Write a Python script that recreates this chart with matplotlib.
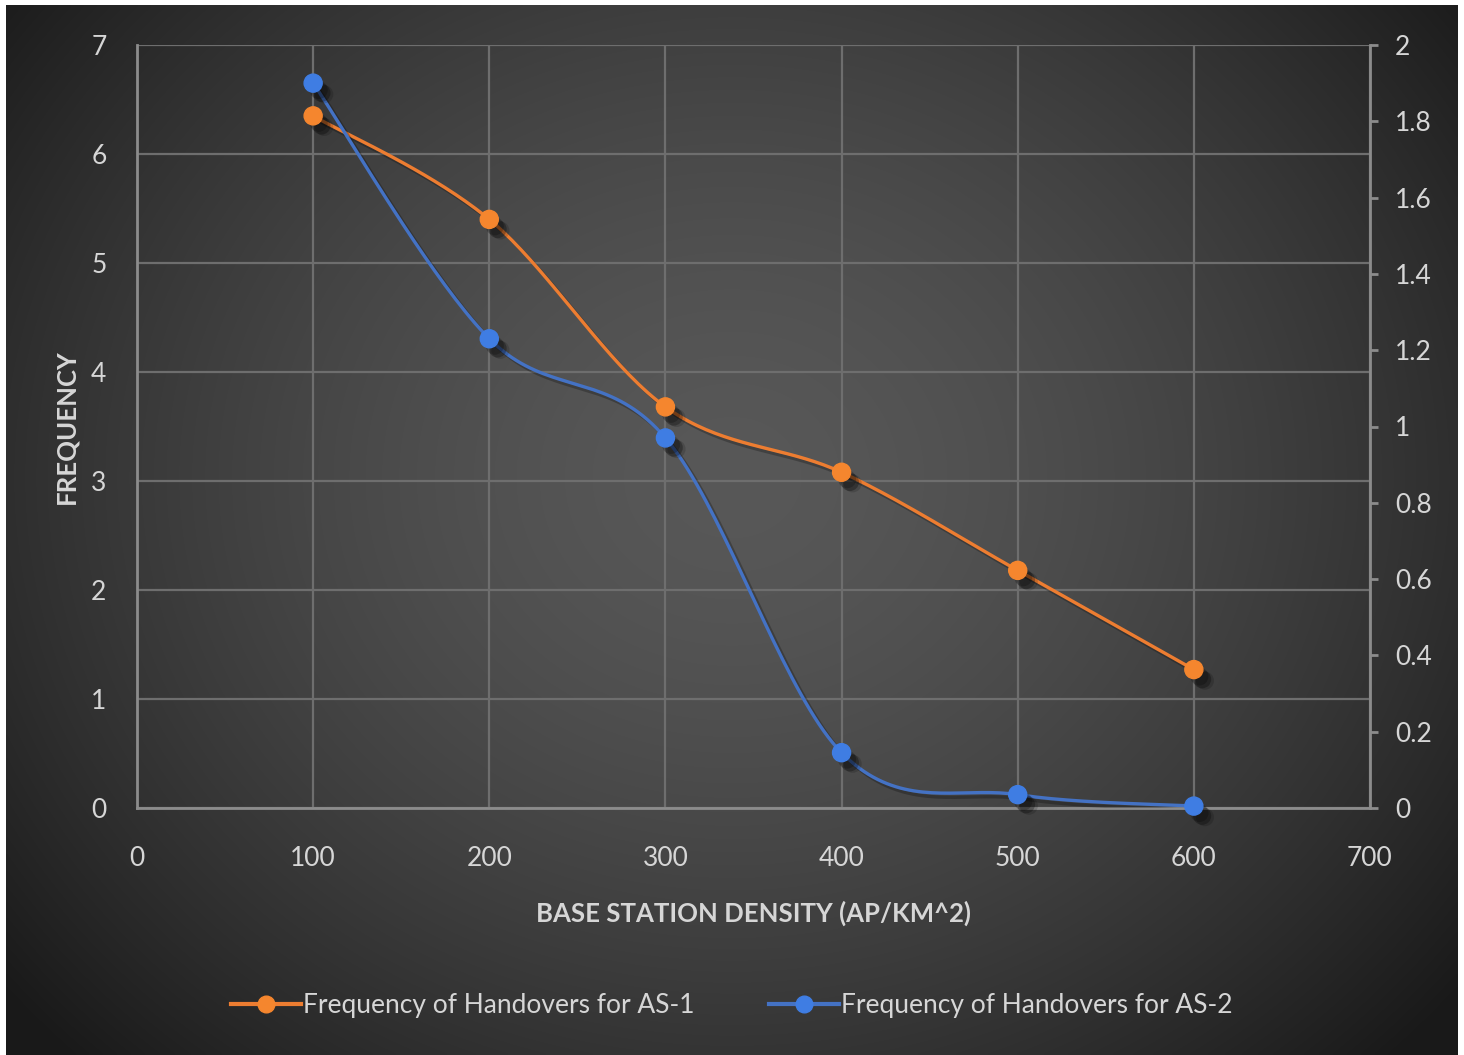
import numpy as np
import matplotlib
matplotlib.use("Agg")
import matplotlib.pyplot as plt
import matplotlib.patheffects as pe
from matplotlib.lines import Line2D

# Data
density = [100, 200, 300, 400, 500, 600]
handovers_as1 = [6.35, 5.40, 3.68, 3.08, 2.18, 1.27]      # left axis
handovers_as2 = [1.90, 1.23, 0.97, 0.145, 0.035, 0.005]   # right axis
left_ticks = [0, 1, 2, 3, 4, 5, 6, 7]
right_ticks = [0, 0.2, 0.4, 0.6, 0.8, 1, 1.2, 1.4, 1.6, 1.8, 2]
x_ticks = [0, 100, 200, 300, 400, 500, 600, 700]

ORANGE = "#ED7D31"
ORANGE_MK = "#F5862E"
BLUE = "#4472C4"
BLUE_MK = "#3F7DE3"
TXT = "#D6D6D6"
GRID = "#6E6E6E"
SPINE = "#8C8C8C"

plt.rcParams["font.family"] = ["Lato", "DejaVu Sans"]


def smooth(xs, ys, xspan, yspan, w=1233.0, h=763.0, n=40):
    # Catmull-Rom style bezier smoothing done in screen-like units
    px = np.asarray(xs, float) / xspan * w
    py = np.asarray(ys, float) / yspan * h
    pts = np.column_stack([px, py])
    pts_ext = np.vstack([pts[0], pts, pts[-1]])
    out = []
    t = np.linspace(0, 1, n)[:, None]
    for i in range(1, len(pts_ext) - 2):
        p0, p1, p2, p3 = pts_ext[i - 1], pts_ext[i], pts_ext[i + 1], pts_ext[i + 2]
        c1 = p1 + (p2 - p0) / 6.0
        c2 = p2 - (p3 - p1) / 6.0
        seg = ((1 - t) ** 3) * p1 + 3 * ((1 - t) ** 2) * t * c1 \
            + 3 * (1 - t) * t ** 2 * c2 + t ** 3 * p2
        out.append(seg if i == 1 else seg[1:])
    curve = np.vstack(out)
    return curve[:, 0] / w * xspan, curve[:, 1] / h * yspan


fig = plt.figure(figsize=(14.64, 10.55), dpi=100, facecolor="white")

# dark radial gradient backdrop
bg = fig.add_axes([6 / 1464, 0, 1452 / 1464, 1 - 5 / 1055], zorder=-10)
gx, gy = np.meshgrid(np.linspace(0, 1, 400), np.linspace(0, 1, 300))
d = np.sqrt(((gx - 0.5) / 0.62) ** 2 + ((gy - 0.45) / 0.75) ** 2)
shade = np.clip(0.345 - 0.23 * d ** 1.6, 0.1, 1)
bg.imshow(np.dstack([shade, shade, shade]), aspect="auto", origin="upper",
          extent=[0, 1, 0, 1], interpolation="bilinear")
bg.axis("off")

ax = fig.add_axes([137 / 1464, 1 - 808 / 1055, 1233 / 1464, 763 / 1055])
ax.set_facecolor("none")
ax2 = ax.twinx()
ax2.set_facecolor("none")

ax.set_xlim(0, 700)
ax.set_ylim(0, 7)
ax2.set_ylim(0, 2)
ax.set_xticks(x_ticks)
ax.set_yticks(left_ticks)
ax2.set_yticks(right_ticks)
ax2.set_yticklabels([f"{v:g}" for v in right_ticks])

ax.grid(True, color=GRID, linewidth=1.6)
ax.set_axisbelow(True)
for a in (ax, ax2):
    for s in a.spines.values():
        s.set_visible(False)
ax.spines["left"].set_visible(True)
ax.spines["bottom"].set_visible(True)
ax2.spines["right"].set_visible(True)
for s in (ax.spines["left"], ax.spines["bottom"], ax2.spines["right"]):
    s.set_color(SPINE)
    s.set_linewidth(2)

ax.tick_params(axis="y", length=0, pad=22, labelsize=19, labelcolor=TXT)
ax.tick_params(axis="x", length=0, pad=27, labelsize=19, labelcolor=TXT)
ax2.tick_params(axis="y", length=6, width=2, color=SPINE, pad=12,
                labelsize=19, labelcolor=TXT)

shadow_mk = [pe.SimplePatchShadow(offset=(4, -5), shadow_rgbFace="black", alpha=0.22),
             pe.SimplePatchShadow(offset=(6, -7), shadow_rgbFace="black", alpha=0.28),
             pe.SimplePatchShadow(offset=(8, -8), shadow_rgbFace="black", alpha=0.15),
             pe.Normal()]
shadow_ln = [pe.SimpleLineShadow(offset=(3, -3), shadow_color="black", alpha=0.25),
             pe.Normal()]

sx, sy = smooth(density, handovers_as1, 700, 7)
ax.plot(sx, sy, color=ORANGE, linewidth=2.4, path_effects=shadow_ln, zorder=3)
ax.plot(density, handovers_as1, linestyle="none", marker="o", markersize=13,
        color=ORANGE_MK, path_effects=shadow_mk, zorder=4)

bx, by = smooth(density, handovers_as2, 700, 2)
ax2.plot(bx, by, color=BLUE, linewidth=2.4, path_effects=shadow_ln, zorder=3)
ax2.plot(density, handovers_as2, linestyle="none", marker="o", markersize=13,
         color=BLUE_MK, path_effects=shadow_mk, zorder=4, clip_on=False)

ax.set_xlabel("BASE STATION DENSITY (AP/KM^2)", fontsize=18.5, fontweight="bold",
              color=TXT, labelpad=22)
ax.set_ylabel("FREQUENCY", fontsize=18.5, fontweight="bold", color=TXT, labelpad=9)

handles = [Line2D([], [], color=ORANGE, linewidth=3, marker="o", markersize=12,
                  markerfacecolor=ORANGE_MK, markeredgecolor=ORANGE_MK),
           Line2D([], [], color=BLUE, linewidth=3, marker="o", markersize=12,
                  markerfacecolor=BLUE_MK, markeredgecolor=BLUE_MK)]
labels = ["Frequency of Handovers for AS-1", "Frequency of Handovers for AS-2"]
fig.legend(handles, labels, loc="center", bbox_to_anchor=(0.5, 1 - 1006 / 1055),
           ncol=2, frameon=False, fontsize=19, labelcolor=TXT,
           handlelength=2.65, handletextpad=0.1, columnspacing=2.8)

fig.savefig("out.png", dpi=100, facecolor="white")
